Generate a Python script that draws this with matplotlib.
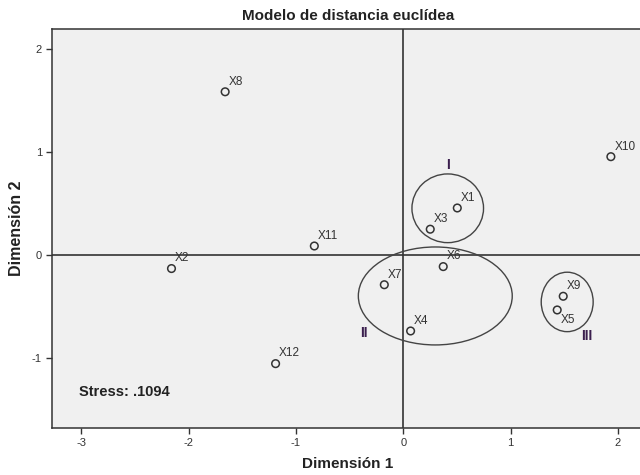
import matplotlib
matplotlib.use("Agg")
import matplotlib.pyplot as plt
from matplotlib.patches import Ellipse

plt.rcParams['font.family'] = ['Liberation Sans', 'DejaVu Sans']

# Stimulus coordinates in the two-dimensional solution
labels = ["X1", "X2", "X3", "X4", "X5", "X6", "X7", "X8", "X9", "X10", "X11", "X12"]
dim1 = [0.503, -2.16, 0.251, 0.068, 1.434, 0.372, -0.177, -1.660, 1.490, 1.934, -0.829, -1.190]
dim2 = [0.456, -0.132, 0.250, -0.738, -0.534, -0.113, -0.289, 1.584, -0.401, 0.954, 0.087, -1.055]
# Label placement: +1 above the point, -1 below it
label_side = [1, 1, 1, 1, -1, 1, 1, 1, 1, 1, 1, 1]

# Groupings drawn as ellipses: centre x, centre y, width, height, name, name position
groups = ["I", "II", "III"]
group_cx = [0.414, 0.298, 1.527]
group_cy = [0.453, -0.398, -0.456]
group_w = [0.667, 1.434, 0.484]
group_h = [0.667, 0.951, 0.577]
group_lx = [0.419, -0.363, 1.713]
group_ly = [0.874, -0.757, -0.786]

stress_text = "Stress: .1094"
xticks = [-3, -2, -1, 0, 1, 2]
yticks = [-1, 0, 1, 2]

fig = plt.figure(figsize=(6.4, 4.75), dpi=100)
ax = fig.add_axes([0.0808, 0.0989, 0.925, 0.8393])
ax.set_facecolor("#f0f0f0")

ax.set_xlim(-3.276, 2.24)
ax.set_ylim(-1.68, 2.19)

line_col = "#333333"
ax.axhline(0, color=line_col, lw=1.2, zorder=1)
ax.axvline(0, color=line_col, lw=1.2, zorder=1)

ax.scatter(dim1, dim2, s=30, facecolors="none", edgecolors=line_col,
           linewidths=1.1, zorder=3)
for name, x, y, side in zip(labels, dim1, dim2, label_side):
    if side > 0:
        ax.annotate(name, (x, y), xytext=(2.5, 3), textcoords="offset points",
                    ha="left", va="bottom", fontsize=8.5, color="#333333", zorder=4)
    else:
        ax.annotate(name, (x, y), xytext=(2.5, -3), textcoords="offset points",
                    ha="left", va="top", fontsize=8.5, color="#333333", zorder=4)

for cx, cy, w, h in zip(group_cx, group_cy, group_w, group_h):
    ax.add_patch(Ellipse((cx, cy), w, h, fill=False, edgecolor="#444444",
                         lw=1.0, zorder=2))
for name, lx, ly in zip(groups, group_lx, group_ly):
    ax.text(lx, ly, name, ha="center", va="center", fontsize=10,
            fontweight="bold", color="#3b1f4e", zorder=4)

ax.text(-3.02, -1.33, stress_text, ha="left", va="center", fontsize=10.5,
        fontweight="bold", color="#222222")

ax.set_xticks(xticks)
ax.set_yticks(yticks)
ax.set_xticklabels([str(t) for t in xticks])
ax.set_yticklabels([str(t) for t in yticks])
ax.tick_params(direction="out", length=4, width=1, colors=line_col,
               labelsize=8, labelcolor="#333333", pad=3)

for side in ["left", "bottom", "top"]:
    ax.spines[side].set_color(line_col)
    ax.spines[side].set_linewidth(1.1)
ax.spines["right"].set_visible(False)

ax.set_title("Modelo de distancia euclídea", fontsize=11, fontweight="bold",
             color="#222222", pad=7)
ax.set_xlabel("Dimensión 1", fontsize=11, fontweight="bold", color="#222222",
              labelpad=7)
ax.set_ylabel("Dimensión 2", fontsize=11.5, fontweight="bold", color="#222222",
              labelpad=6)

fig.savefig("out.png", dpi=100, facecolor="white")
